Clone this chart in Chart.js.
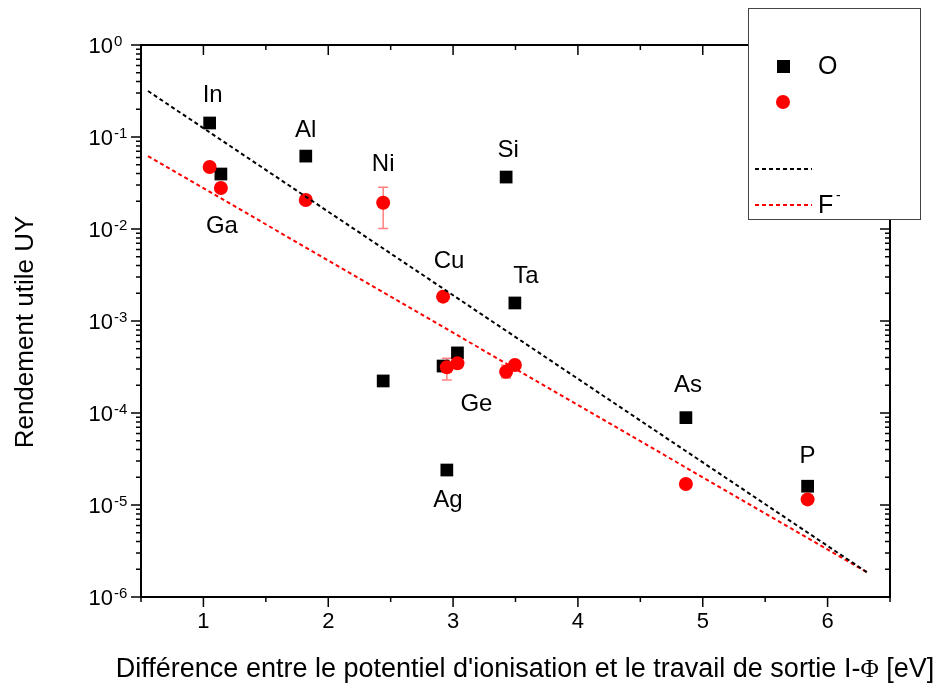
<!DOCTYPE html>
<html>
<head>
<meta charset="utf-8">
<script src="https://cdn.jsdelivr.net/npm/chart.js@4/dist/chart.umd.min.js"></script>
<style>
  html, body { margin: 0; padding: 0; background: #fff; }
  #chart { display: block; }
</style>
</head>
<body>
<canvas id="chart" width="943" height="684"></canvas>
<script>
// values
const elements   = ["In", "Ga", "Al", "Ni", "Cu", "Ag", "Ge", "Si", "Ta", "As", "P"];
const energyDiff = [1.05, 1.14, 1.82, 2.44, 2.92, 2.95, 3.035, 3.425, 3.495, 4.865, 5.84];
const yieldO     = [0.142, 0.0396, 0.062, 2.23e-4, 3.24e-4, 2.4e-5, 4.5e-4, 0.0367, 1.57e-3, 8.9e-5, 1.6e-5];
const yieldF     = [0.0472, 0.0279, 0.0207, 0.0193, 1.84e-3, 3.14e-4, 3.47e-4, 2.81e-4, 3.33e-4, 1.69e-5, 1.15e-5];
const errFLow    = [null, null, null, 0.0101, null, 2.29e-4, null, 2.4e-4, null, null, null];
const errFHigh   = [null, null, null, 0.0284, null, 3.93e-4, null, 3.3e-4, null, null, null];

// fitted lines (end points)
const fitX = [0.556, 6.325];
const fitO = [0.316, 1.82e-6];
const fitF = [0.062, 1.82e-6];

const xTicks = [1, 2, 3, 4, 5, 6];
const yExponents = [0, -1, -2, -3, -4, -5, -6];

// label placement: which series the name sits next to, and pixel offset
const labelAnchor = ["O", "O", "O", "F", "F", "O", "O", "O", "O", "O", "O"];
const labelOffset = [[3, -28], [1, 52], [0, -26], [0, -38], [6, -35], [1, 30], [19, 51], [2, -27], [11, -27], [2, -32], [0, -30]];

const FONT = "'Liberation Sans', Arial, sans-serif";

function toPoints(xs, ys) {
    return xs.map((x, i) => ({ x: x, y: ys[i] }));
}

const errorBars = {
    id: "errorBars",
    beforeDatasetsDraw(chart) {
        const ctx = chart.ctx, xs = chart.scales.x, ys = chart.scales.y;
        ctx.save();
        ctx.strokeStyle = "rgba(255,0,0,0.5)";
        ctx.lineWidth = 1.5;
        energyDiff.forEach((x, i) => {
            if (errFLow[i] == null) return;
            const px = xs.getPixelForValue(x);
            const y1 = ys.getPixelForValue(errFLow[i]);
            const y2 = ys.getPixelForValue(errFHigh[i]);
            ctx.beginPath();
            ctx.moveTo(px, y1); ctx.lineTo(px, y2);
            ctx.moveTo(px - 5, y1); ctx.lineTo(px + 5, y1);
            ctx.moveTo(px - 5, y2); ctx.lineTo(px + 5, y2);
            ctx.stroke();
        });
        ctx.restore();
    }
};

const frame = {
    id: "frame",
    afterDraw(chart) {
        const ctx = chart.ctx, xs = chart.scales.x, ys = chart.scales.y;
        const a = chart.chartArea;
        ctx.save();
        ctx.strokeStyle = "#000";
        ctx.fillStyle = "#000";

        // box
        ctx.lineWidth = 2;
        ctx.strokeRect(a.left, a.top, a.right - a.left, a.bottom - a.top);

        ctx.lineWidth = 1.5;
        ctx.beginPath();
        // x ticks: bottom outward, top inward
        for (let v = 0.5; v <= 6.5001; v += 0.5) {
            const px = xs.getPixelForValue(v);
            const len = Number.isInteger(v) ? 10 : 5;
            ctx.moveTo(px, a.bottom); ctx.lineTo(px, a.bottom + len);
            ctx.moveTo(px, a.top); ctx.lineTo(px, a.top + len);
        }
        // y ticks: left outward, right inward
        yExponents.forEach(e => {
            const py = ys.getPixelForValue(Math.pow(10, e));
            ctx.moveTo(a.left - 10, py); ctx.lineTo(a.left, py);
            ctx.moveTo(a.right, py); ctx.lineTo(a.right - 10, py);
            if (e > -6) {
                for (let m = 2; m <= 9; m++) {
                    const pm = ys.getPixelForValue(m * Math.pow(10, e - 1));
                    ctx.moveTo(a.left - 5, pm); ctx.lineTo(a.left, pm);
                    ctx.moveTo(a.right, pm); ctx.lineTo(a.right - 5, pm);
                }
            }
        });
        ctx.stroke();

        // tick labels
        ctx.textBaseline = "alphabetic";
        ctx.font = "22px " + FONT;
        ctx.textAlign = "center";
        xTicks.forEach(v => ctx.fillText(String(v), xs.getPixelForValue(v), 628));
        yExponents.forEach(e => {
            const py = ys.getPixelForValue(Math.pow(10, e));
            ctx.font = "22px " + FONT;
            ctx.textAlign = "right";
            ctx.fillText("10", 113, py + 8);
            ctx.font = "15px " + FONT;
            ctx.textAlign = "left";
            ctx.fillText(e === 0 ? "0" : "-" + Math.abs(e), 114, py + 1);
        });

        // axis titles
        ctx.font = "27px " + FONT;
        ctx.textAlign = "left";
        const t1 = "Différence entre le potentiel d'ionisation et le travail de sortie I-";
        const t2 = "Φ";
        const t3 = " [eV]";
        const w1 = ctx.measureText(t1).width, w3 = ctx.measureText(t3).width;
        ctx.font = "25px 'Liberation Serif', 'DejaVu Serif', serif";
        const w2 = ctx.measureText(t2).width;
        let tx = 525 - (w1 + w2 + w3) / 2;
        ctx.font = "27px " + FONT;
        ctx.fillText(t1, tx, 677);
        tx += w1;
        ctx.font = "25px 'Liberation Serif', 'DejaVu Serif', serif";
        ctx.fillText(t2, tx, 677);
        tx += w2;
        ctx.font = "27px " + FONT;
        ctx.fillText(t3, tx, 677);

        ctx.save();
        ctx.font = "26px " + FONT;
        ctx.translate(33, 332);
        ctx.rotate(-Math.PI / 2);
        ctx.textAlign = "center";
        ctx.fillText("Rendement utile UY", 0, 0);
        ctx.restore();

        // element names
        ctx.font = "24px " + FONT;
        ctx.textAlign = "center";
        ctx.textBaseline = "middle";
        elements.forEach((name, i) => {
            const yv = labelAnchor[i] === "O" ? yieldO[i] : yieldF[i];
            const px = xs.getPixelForValue(energyDiff[i]) + labelOffset[i][0];
            const py = ys.getPixelForValue(yv) + labelOffset[i][1];
            ctx.fillText(name, px, py);
        });

        // legend box
        ctx.fillStyle = "#fff";
        ctx.fillRect(748, 8, 173, 212);
        ctx.strokeStyle = "#444";
        ctx.lineWidth = 1;
        ctx.strokeRect(748.5, 8.5, 172, 211);

        ctx.fillStyle = "#000";
        ctx.fillRect(777, 60, 13, 13);
        ctx.fillStyle = "#ff0000";
        ctx.beginPath();
        ctx.arc(783, 102, 7, 0, Math.PI * 2);
        ctx.fill();

        ctx.lineWidth = 2;
        ctx.setLineDash([4, 3]);
        ctx.strokeStyle = "#000";
        ctx.beginPath(); ctx.moveTo(755, 169); ctx.lineTo(812, 169); ctx.stroke();
        ctx.strokeStyle = "#ff0000";
        ctx.beginPath(); ctx.moveTo(755, 205); ctx.lineTo(812, 205); ctx.stroke();
        ctx.setLineDash([]);

        ctx.fillStyle = "#000";
        ctx.font = "25px " + FONT;
        ctx.textAlign = "left";
        ctx.textBaseline = "middle";
        ctx.fillText("O", 818, 67);
        ctx.fillText("F", 818, 206);
        ctx.font = "14px " + FONT;
        ctx.fillText("-", 836, 196);
        ctx.restore();
    }
};

new Chart(document.getElementById("chart"), {
    type: "scatter",
    data: {
        datasets: [
            {
                label: "fit O",
                data: toPoints(fitX, fitO),
                showLine: true,
                borderColor: "#000",
                borderWidth: 2,
                borderDash: [4, 3],
                pointRadius: 0,
                order: 0
            },
            {
                label: "fit F-",
                data: toPoints(fitX, fitF),
                showLine: true,
                borderColor: "#ff0000",
                borderWidth: 2,
                borderDash: [4, 3],
                pointRadius: 0,
                order: 1
            },
            {
                label: "F-",
                data: toPoints(energyDiff, yieldF),
                pointStyle: "circle",
                pointRadius: 7,
                pointBorderWidth: 0,
                backgroundColor: "#ff0000",
                borderColor: "#ff0000",
                order: 2
            },
            {
                label: "O",
                data: toPoints(energyDiff, yieldO),
                pointStyle: "rect",
                pointRadius: 9,
                pointBorderWidth: 0,
                backgroundColor: "#000",
                borderColor: "#000",
                order: 3
            }
        ]
    },
    options: {
        responsive: false,
        animation: false,
        devicePixelRatio: 1,
        layout: { padding: { left: 141, top: 45, right: 53, bottom: 87 } },
        scales: {
            x: { type: "linear", min: 0.5, max: 6.5, display: false },
            y: { type: "logarithmic", min: 1e-6, max: 1, display: false }
        },
        plugins: {
            legend: { display: false },
            tooltip: { enabled: false }
        }
    },
    plugins: [errorBars, frame]
});
</script>
</body>
</html>
